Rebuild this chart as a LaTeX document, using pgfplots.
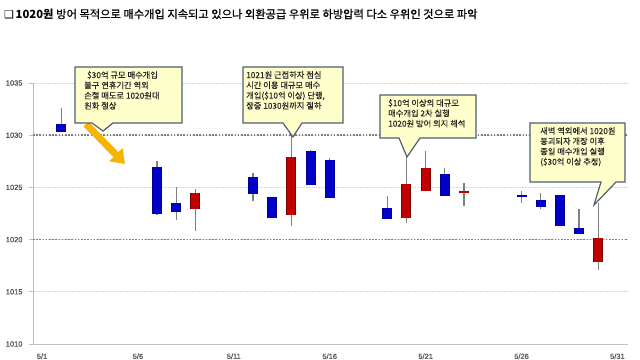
\documentclass[border=0pt]{standalone}
\usepackage{pgfplots}
\pgfplotsset{compat=1.18}
\usepackage{pgfplotstable}
\usepackage{fontspec}
\usetikzlibrary{arrows.meta}
\setmainfont{Liberation Sans}
\newfontfamily\kr{Noto Sans CJK KR}
\newfontfamily\krm[FakeBold=0.7]{Noto Sans CJK KR}
\newfontfamily\krs[FakeBold=0.3]{Noto Sans CJK KR}
\newfontfamily\dv{DejaVu Sans}
\newfontfamily\tk[FakeBold=0.6]{Liberation Sans}
\definecolor{gridlight}{HTML}{D9D9D9}
\definecolor{griddark}{HTML}{7F7F7F}
\definecolor{axisgray}{HTML}{BFBFBF}
\definecolor{ticktext}{HTML}{505050}
\definecolor{cblue}{HTML}{0000C8}
\definecolor{cbluee}{HTML}{00008C}
\definecolor{cred}{HTML}{C00000}
\definecolor{crede}{HTML}{7A0000}
\definecolor{wick}{HTML}{808080}
\definecolor{callfill}{HTML}{FFFFCC}
\definecolor{calledge}{HTML}{4F5F6F}
\definecolor{arrowc}{HTML}{F5B400}

% x = day of May; low, body bottom, body top, high
\pgfplotstableread{
x  low     bot     top     high
2  1030.3  1030.3  1031.05 1032.6
7  1022.4  1022.45 1027.0  1027.5
8  1021.9  1022.6  1023.55 1025.0
12 1023.65 1024.35 1026.0  1026.4
13 1022.05 1022.05 1024.05 1024.05
15 1025.2  1025.25 1028.5  1028.55
16 1024.0  1024.0  1027.6  1027.85
19 1022.0  1022.0  1023.0  1024.2
22 1024.2  1024.2  1026.25 1026.9
26 1023.55 1024.05 1024.3  1024.65
27 1022.9  1023.15 1023.8  1024.45
28 1021.35 1021.35 1024.3  1024.3
29 1020.55 1020.55 1021.1  1022.9
}\bluedata

\pgfplotstableread{
x  low     bot     top     high
9  1020.85 1022.9  1024.45 1024.8
14 1021.3  1022.4  1027.9  1029.9
20 1021.6  1022.05 1025.35 1027.9
21 1024.7  1024.7  1026.9  1028.5
23 1023.25 1024.5  1024.62 1025.45
30 1017.05 1017.9  1020.15 1023.5
}\reddata

\newcommand{\callout}[8]{%
  \draw[calledge, fill=callfill, line width=1.2bp, line join=miter]
    (#1,#2) -- (#3,#2) -- (#3,#4) -- (#6,#4) -- (#7,#8) -- (#5,#4) -- (#1,#4) -- cycle;}

\pgfplotsset{
  candlebar/.style 2 args={draw=none, mark=none, forget plot,
    error bars/y dir=plus, error bars/y explicit, error bars/error mark=none,
    error bars/error bar style={draw=#1, line width=#2, solid}},
}

\begin{document}
\begin{tikzpicture}
\useasboundingbox (0,0) rectangle (640bp,360bp);
\begin{axis}[
  at={(33bp,16bp)}, anchor=south west, scale only axis,
  width=595bp, height=261bp,
  xmin=0.53, xmax=31.55, ymin=1010, ymax=1035,
  axis x line*=bottom, axis y line*=left,
  axis line style={axisgray, line width=1bp, -},
  xtick={1,6,11,16,21,26,31},
  xticklabels={5/1,5/6,5/11,5/16,5/21,5/26,5/31},
  ytick={1010,1015,...,1035},
  xtick style={draw=none},
  ytick style={axisgray, line width=0.8bp},
  tick align=outside, major tick length=4bp,
  ymajorgrids,
  major grid style={gridlight, line width=0.8bp, dash pattern=on 1.5bp off 1.5bp},
  extra y ticks={1020,1030}, extra y tick labels={},
  extra y tick style={major tick length=0pt, ymajorgrids=true,
     major grid style={griddark, line width=1.4bp, dash pattern=on 1.6bp off 1.6bp}},
  scaled y ticks=false,
  ticklabel style={font=\tk\fontsize{7.5}{8}\selectfont, text=ticktext},
  /pgf/number format/assume math mode=true,
  /pgf/number format/1000 sep={},
  yticklabel style={xshift=-3bp},
  xticklabel style={yshift=-2bp},
  clip=false,
]
% wicks
\addplot[candlebar={wick}{1.3bp}] table[x=x, y=low, y error expr=\thisrow{high}-\thisrow{low}] {\bluedata};
\addplot[candlebar={wick}{1.3bp}] table[x=x, y=low, y error expr=\thisrow{high}-\thisrow{low}] {\reddata};
% bodies (edge layer, then fill layer)
\addplot[candlebar={cbluee}{10bp}] table[x=x, y=bot, y error expr=\thisrow{top}-\thisrow{bot}] {\bluedata};
\addplot[candlebar={cblue}{8bp}] table[x=x, y=bot, y error expr=\thisrow{top}-\thisrow{bot}] {\bluedata};
\addplot[candlebar={crede}{10bp}] table[x=x, y=bot, y error expr=\thisrow{top}-\thisrow{bot}] {\reddata};
\addplot[candlebar={cred}{8bp}] table[x=x, y=bot, y error expr=\thisrow{top}-\thisrow{bot}] {\reddata};
\end{axis}

\begin{scope}[x=1bp, y=-1bp, shift={(0,360bp)}]
  % title
  \node[anchor=west, inner sep=0] at (4,14)
    {{\dv\fontsize{11}{12}\selectfont ❑}\,{\kr\fontsize{11.3}{13}\selectfont\bfseries 1020원} {\krm\fontsize{11.3}{13}\selectfont 방어 목적으로 매수개입 지속되고 있으나 외환공급 우위로 하방압력 다소 우위인 것으로 파악}};
  % arrow
  \draw[arrowc, line width=7bp, -{Triangle[width=18bp,length=13bp]}] (86,124) -- (125,164);
  % callouts
  \callout{75}{67}{182}{123}{92}{113}{103}{131}
  \callout{243}{67}{343}{123}{283}{302}{293}{137}
  \callout{380}{95}{476}{138}{399}{420}{407}{157}
  \callout{530}{123}{625}{182}{601}{616}{594}{205}
  \begin{scope}[every node/.style={anchor=north west, align=left, inner sep=0,
      font=\krs\fontsize{8.3}{10.3}\selectfont, text=black!85}]
    \node at (84,71) {\hspace{3bp}\$30억 규모 매수개입\\불구 연휴기간 역외\\손절 매도로 1020원대\\원화 절상};
    \node at (246,71) {1021원 근접하자 점심\\시간 이용 대규모 매수\\개입(\$10억 이상) 단행,\\장중 1030원까지 절하};
    \node at (388,99) {\$10억 이상의 대규모\\매수개입 2차 실행\\1020원 방어 의지 해석};
    \node at (540,127) {새벽 역외에서 1020원\\붕괴되자 개장 이후\\종일 매수개입 실행\\(\$30억 이상 추정)};
  \end{scope}
\end{scope}
\end{tikzpicture}
\end{document}
